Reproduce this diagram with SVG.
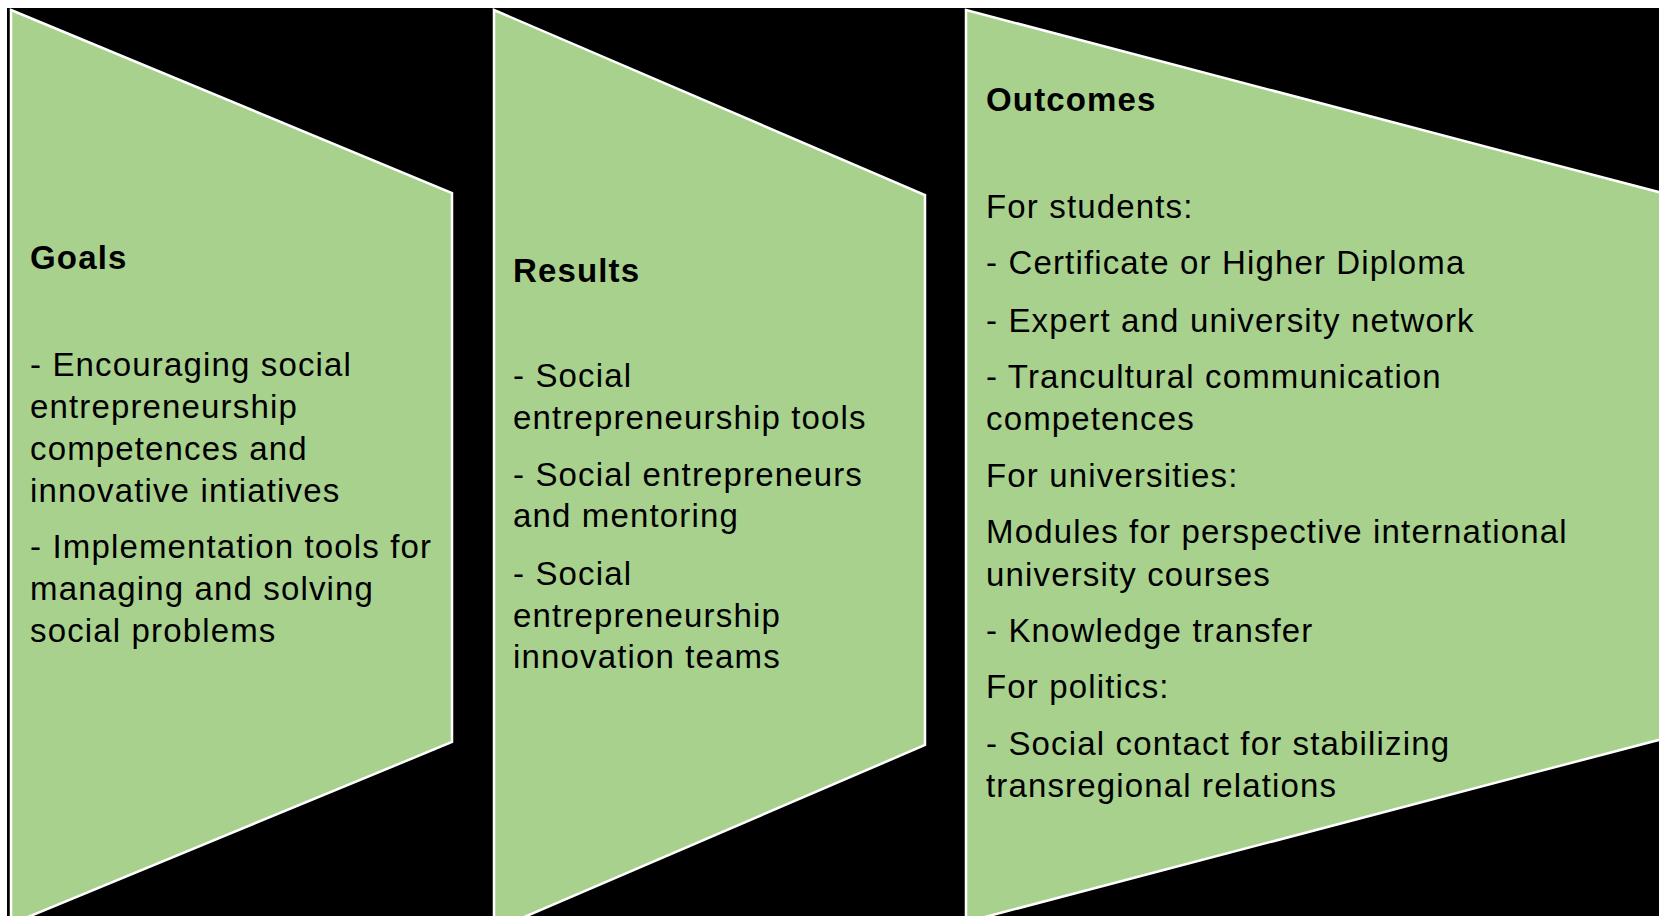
<svg xmlns="http://www.w3.org/2000/svg" width="1659" height="916" viewBox="0 0 1659 916">
<style>
.shape{fill:#A9D18E;stroke:#FFFFFF;stroke-width:2.5;stroke-linejoin:miter}
.t{font-family:"Liberation Sans",Arial,sans-serif;font-size:33px;letter-spacing:1.15px;fill:#000000}
.h{font-weight:bold}
</style>
<rect x="0" y="0" width="1659" height="916" fill="#FFFFFF"/>
<rect x="7" y="8" width="1652" height="908" fill="#000000"/>
<g id="connectors"></g>
<g id="goals">
<polygon class="shape" points="11,10 452,193 452,742 11,924"/>
<text class="t h" x="30" y="269">Goals</text>
<text class="t" x="30" y="376">- Encouraging social</text>
<text class="t" x="30" y="418">entrepreneurship</text>
<text class="t" x="30" y="460">competences and</text>
<text class="t" x="30" y="502">innovative intiatives</text>
<text class="t" x="30" y="558">- Implementation tools for</text>
<text class="t" x="30" y="600">managing and solving</text>
<text class="t" x="30" y="642">social problems</text>
</g>
<g id="results">
<polygon class="shape" points="494,10 925,195 925,745 494,930"/>
<text class="t h" x="513" y="282">Results</text>
<text class="t" x="513" y="387">- Social</text>
<text class="t" x="513" y="429">entrepreneurship tools</text>
<text class="t" x="513" y="486">- Social entrepreneurs</text>
<text class="t" x="513" y="527">and mentoring</text>
<text class="t" x="513" y="585">- Social</text>
<text class="t" x="513" y="627">entrepreneurship</text>
<text class="t" x="513" y="668">innovation teams</text>
</g>
<g id="outcomes">
<polygon class="shape" points="966,10 1685,199 1685,733 966,922"/>
<text class="t h" x="986" y="111">Outcomes</text>
<text class="t" x="986" y="218">For students:</text>
<text class="t" x="986" y="274">- Certificate or Higher Diploma</text>
<text class="t" x="986" y="332">- Expert and university network</text>
<text class="t" x="986" y="388">- Trancultural communication</text>
<text class="t" x="986" y="430">competences</text>
<text class="t" x="986" y="487">For universities:</text>
<text class="t" x="986" y="543">Modules for perspective international</text>
<text class="t" x="986" y="586">university courses</text>
<text class="t" x="986" y="642">- Knowledge transfer</text>
<text class="t" x="986" y="698">For politics:</text>
<text class="t" x="986" y="755">- Social contact for stabilizing</text>
<text class="t" x="986" y="797">transregional relations</text>
</g>
</svg>
